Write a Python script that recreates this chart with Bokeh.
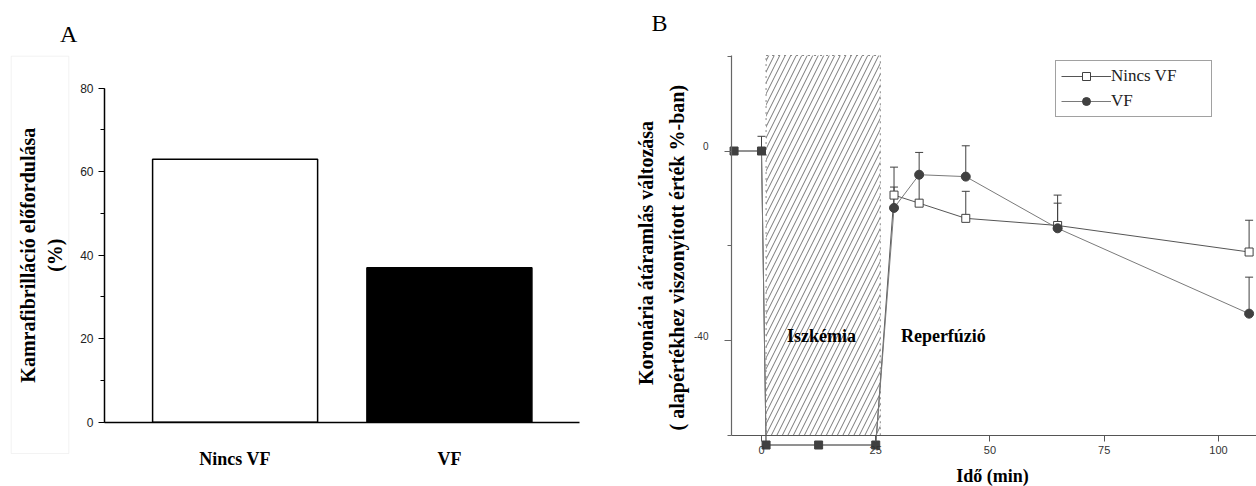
import math
from bokeh.plotting import figure
from bokeh.models import (Range1d, SingleIntervalTicker, FixedTicker, Label, Legend,
                          LegendItem, Whisker, TeeHead, ColumnDataSource, BoxAnnotation)
from bokeh.layouts import row
from bokeh.embed import file_html
from bokeh.resources import INLINE

# ---------------- data: panel A ----------------
groups_a = ["Nincs VF", "VF"]
group_pos_a = [1, 2]
incidence_a = [63, 37]
bar_colors_a = ["white", "black"]

# ---------------- data: panel B ----------------
pre_time = [-6, 0, 1, 12.5, 25]
pre_flow = [0, 0, -62, -62, -62]
pre_err = [0, 3.1, 0, 0, 0]
reperf_time = [29, 34.5, 44.7, 64.8, 106.7]
novf_flow = [-9.3, -11.0, -14.2, -15.7, -21.3]
novf_err = [1.7, 6.0, 5.7, 4.7, 6.7]
vf_flow = [-12.0, -5.0, -5.4, -16.3, -34.3]
vf_err = [8.6, 4.7, 6.5, 7.0, 7.7]
ischemia_window = [1, 26]
x_ticks_b = [0, 25, 50, 75, 100]
y_ticks_b = [0, -40]

SERIF = "Liberation Serif"
SANS = "Liberation Sans"


def bare(p):
    p.grid.visible = False
    p.outline_line_color = None
    p.title.visible = False
    p.min_border = 0


def text(p, x, y, s, size, bold=True, angle=0.0, color="black"):
    p.add_layout(Label(x=x, y=y, text=s, angle=angle, text_font=SERIF,
                       text_font_style="bold" if bold else "normal",
                       text_font_size=size, text_align="center", text_baseline="middle",
                       text_color=color))


# ================= Panel A =================
A_X0, A_X1 = 0.3906, 2.608     # axis extents
pa = figure(width=600, height=486, x_range=Range1d(-0.0947, 2.705),
            y_range=Range1d(-15.4, 101.0), output_backend="svg", toolbar_location=None)
bare(pa)

pa.vbar(x=group_pos_a, top=incidence_a, width=0.77, fill_color=bar_colors_a,
        line_color="black", line_width=1.5)

ya = pa.yaxis[0]
ya.fixed_location = A_X0
ya.bounds = (0, 80)
ya.ticker = SingleIntervalTicker(interval=20, num_minor_ticks=2)
ya.axis_line_width = 1.5
ya.axis_line_color = "black"
ya.major_tick_line_color = "black"
ya.minor_tick_line_color = "black"
ya.major_tick_in = 0
ya.major_tick_out = 6
ya.minor_tick_in = 0
ya.minor_tick_out = 4
ya.major_label_text_font = SANS
ya.major_label_text_font_size = "12px"
ya.major_label_text_color = "#222222"
ya.major_label_standoff = 5

xa = pa.xaxis[0]
xa.fixed_location = 0
xa.bounds = (A_X0, A_X1)
xa.ticker = FixedTicker(ticks=group_pos_a)
xa.major_label_overrides = {p: g for p, g in zip(group_pos_a, groups_a)}
xa.axis_line_width = 1.5
xa.axis_line_color = "black"
xa.major_tick_line_color = None
xa.minor_tick_line_color = None
xa.major_label_text_font = SERIF
xa.major_label_text_font_style = "bold"
xa.major_label_text_font_size = "18px"
xa.major_label_text_color = "black"
xa.major_label_standoff = 21

pa.add_layout(BoxAnnotation(left=-0.0448, right=0.224, top=87.66, bottom=-7.5,
                            fill_color=None, line_color="#d8d8d8", line_width=1))
text(pa, 0.0336, 40, "Kamrafibrilláció előfordulása", "20px", angle=math.pi / 2)
text(pa, 0.1619, 40, "(%)", "20px", angle=math.pi / 2)
text(pa, 0.223, 92.9, "A", "24px", bold=False)

# ================= Panel B =================
B_X0, B_X1 = -6.565, 108.32   # axis extents
B_Y0, B_Y1 = -60, 20.14
pb = figure(width=656, height=486, x_range=Range1d(-35.23, 108.32),
            y_range=Range1d(-70.75, 31.74), output_backend="svg", toolbar_location=None)
bare(pb)

# ischemia hatched window
pb.quad(left=[ischemia_window[0]], right=[ischemia_window[1]], top=[B_Y1], bottom=[B_Y0],
        fill_color=None, hatch_pattern="/", hatch_color="#555555", hatch_scale=11,
        hatch_weight=0.8, line_color="#888888", line_dash="dotted", line_width=1)

gray = "#7a7a7a"
dark = "#404040"
novf_line = pb.line(pre_time + reperf_time, pre_flow + novf_flow, line_color="#555555",
                    line_width=1)
vf_line = pb.line(pre_time + reperf_time, pre_flow + vf_flow, line_color=gray, line_width=1)


def whisker(xs, ys, es):
    src = ColumnDataSource(dict(x=xs, lo=ys, hi=[y + e for y, e in zip(ys, es)]))
    pb.add_layout(Whisker(source=src, base="x", lower="lo", upper="hi", line_color=dark,
                          line_width=1, upper_head=TeeHead(size=8, line_color=dark, line_width=1),
                          lower_head=None))


whisker(pre_time, pre_flow, pre_err)
whisker(reperf_time, novf_flow, novf_err)
whisker(reperf_time, vf_flow, vf_err)

pb.scatter(pre_time, pre_flow, marker="square", size=8, fill_color=dark, line_color=dark)
novf_pts = pb.scatter(reperf_time, novf_flow, marker="square", size=8, fill_color="white",
                      line_color=dark, line_width=1)
vf_pts = pb.scatter(reperf_time, vf_flow, marker="circle", size=9, fill_color=dark,
                    line_color=dark)

yb = pb.yaxis[0]
yb.fixed_location = B_X0
yb.bounds = (B_Y0, B_Y1)
yb.ticker = SingleIntervalTicker(interval=40, num_minor_ticks=2)
yb.major_label_overrides = {t: "" for t in y_ticks_b}
yb.axis_line_color = "#666666"
yb.axis_line_width = 1.2
yb.major_tick_line_color = "#666666"
yb.minor_tick_line_color = "#666666"
yb.major_tick_in = 0
yb.major_tick_out = 7
yb.minor_tick_in = 0
yb.minor_tick_out = 4
# tick labels sit slightly above their ticks, as in the original
for t in y_ticks_b:
    pb.add_layout(Label(x=B_X0, y=t, text=str(t), x_offset=-23, y_offset=1,
                        text_font=SANS, text_font_size="10px", text_color="#333333",
                        text_align="right", text_baseline="bottom"))

xb = pb.xaxis[0]
xb.fixed_location = B_Y0
xb.bounds = (B_X0, B_X1)
xb.ticker = FixedTicker(ticks=x_ticks_b)
xb.axis_line_color = "#555555"
xb.axis_line_width = 1.2
xb.major_tick_line_color = "#555555"
xb.minor_tick_line_color = None
xb.major_tick_in = 0
xb.major_tick_out = 6
xb.major_label_text_font = SANS
xb.major_label_text_font_size = "11px"
xb.major_label_text_color = "#333333"
xb.major_label_standoff = 4

text(pb, -25.27, -21.5, "Koronária átáramlás változása", "20px", angle=math.pi / 2)
text(pb, -18.49, -22.5, "( alapértékhez viszonyított érték %-ban)", "20px", angle=math.pi / 2)
text(pb, 50.55, -68.6, "Idő (min)", "18px")
text(pb, -22.32, 27.1, "B", "24px", bold=False)
text(pb, 13.13, -39.1, "Iszkémia", "18px")
text(pb, 39.8, -39.1, "Reperfúzió", "18px")

legend = Legend(items=[LegendItem(label="Nincs VF", renderers=[novf_line, novf_pts]),
                       LegendItem(label="VF", renderers=[vf_line, vf_pts])],
                location=(455, 369), border_line_color="#444444", border_line_width=1,
                background_fill_color="white", background_fill_alpha=1,
                label_text_font=SERIF, label_text_font_size="17px", label_text_color="#222222",
                glyph_width=50, glyph_height=20, label_height=20, label_width=95,
                label_standoff=0, padding=5, spacing=5, margin=0)
pb.add_layout(legend)

layout = row(pa, pb)
open("out.html", "w").write(file_html(layout, INLINE))
